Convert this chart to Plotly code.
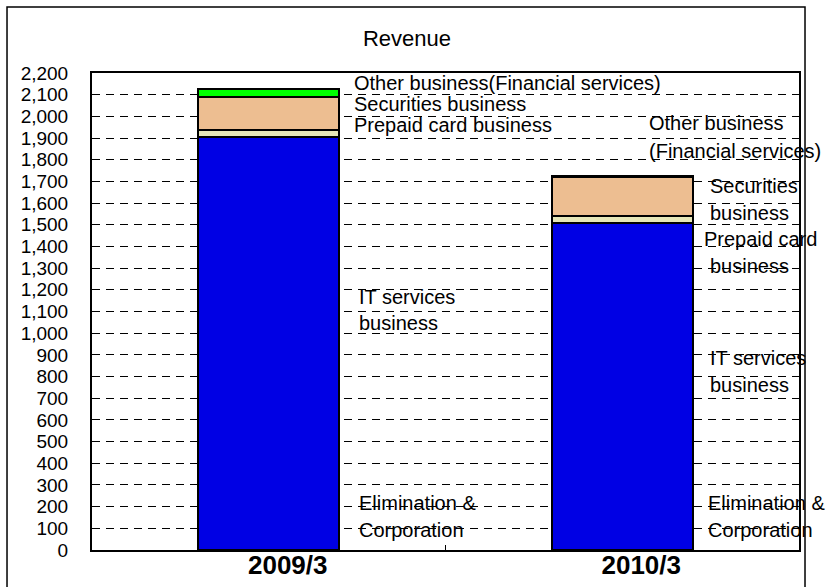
import plotly.graph_objects as go

# Fiscal years and revenue by business segment
periods = ["2009/3", "2010/3"]
it_services = [1904, 1507]
prepaid_card = [31, 34]
securities = [154, 178]
other_financial = [37, 8]

segment_names = [
    "IT services business",
    "Prepaid card business",
    "Securities business",
    "Other business(Financial services)",
]
segment_values = [it_services, prepaid_card, securities, other_financial]
segment_colors = ["#0000E4", "#E6E6B8", "#EDBE91", "#00FF00"]

y_ticks = list(range(0, 2201, 100))
y_tick_text = [f"{v:,}" for v in y_ticks]

FONT = "Arial, Liberation Sans, sans-serif"

fig = go.Figure()
for name, values, color in zip(segment_names, segment_values, segment_colors):
    fig.add_trace(go.Bar(
        x=periods, y=values, name=name,
        marker=dict(color=color, line=dict(color="black", width=2)),
    ))

# Segment labels placed beside each bar (paper coordinates)
labels = [
    ("Other business(Financial services)", 0.368, 0.979),
    ("Securities business", 0.368, 0.935),
    ("Prepaid card business", 0.368, 0.891),
    ("IT services", 0.375, 0.530),
    ("business", 0.375, 0.476),
    ("Elimination &", 0.375, 0.0985),
    ("Corporation", 0.375, 0.042),
    ("Other business", 0.785, 0.895),
    ("(Financial services)", 0.785, 0.8365),
    ("Securities", 0.871, 0.763),
    ("business", 0.871, 0.7065),
    ("Prepaid card", 0.863, 0.652),
    ("business", 0.871, 0.5954),
    ("IT services", 0.871, 0.4025),
    ("business", 0.871, 0.346),
    ("Elimination &", 0.8685, 0.0985),
    ("Corporation", 0.8685, 0.042),
]
annotations = [
    dict(text=t, x=x, y=y, xref="paper", yref="paper", xanchor="left",
         yanchor="middle", showarrow=False,
         font=dict(family=FONT, size=20, color="black"))
    for t, x, y in labels
]

fig.update_layout(
    width=834, height=587,
    margin=dict(l=92, r=35, t=73, b=37),
    paper_bgcolor="white", plot_bgcolor="white",
    barmode="stack", bargap=0.6,
    showlegend=False,
    font=dict(family=FONT, color="black"),
    title=dict(text="Revenue", x=0.4455, xref="paper", xanchor="center",
               y=1 - 38 / 587, yref="container", yanchor="middle",
               font=dict(family=FONT, size=22, color="black")),
    annotations=annotations,
    shapes=[dict(type="rect", xref="paper", yref="paper",
                 x0=-0.1202, x1=1.0085, y0=-0.2, y1=1.1384,
                 line=dict(color="black", width=1.5), layer="below")],
)

fig.update_yaxes(
    range=[0, 2200], tickvals=y_ticks, ticktext=y_tick_text,
    showgrid=True, gridcolor="black", gridwidth=1, griddash="8px,6px",
    showline=True, linecolor="black", linewidth=2, mirror=True,
    ticks="", ticklabelstandoff=18, zeroline=False, automargin=False,
    tickfont=dict(family=FONT, size=19, color="black"),
)
fig.update_xaxes(
    showline=True, linecolor="black", linewidth=2, mirror=True,
    tickson="boundaries", ticks="inside", ticklen=5, tickcolor="black",
    ticklabelshift=19, ticklabelstandoff=-9, automargin=False,
    tickfont=dict(family=FONT, size=26, color="black", weight="bold"),
)

fig.write_html("out.html")
